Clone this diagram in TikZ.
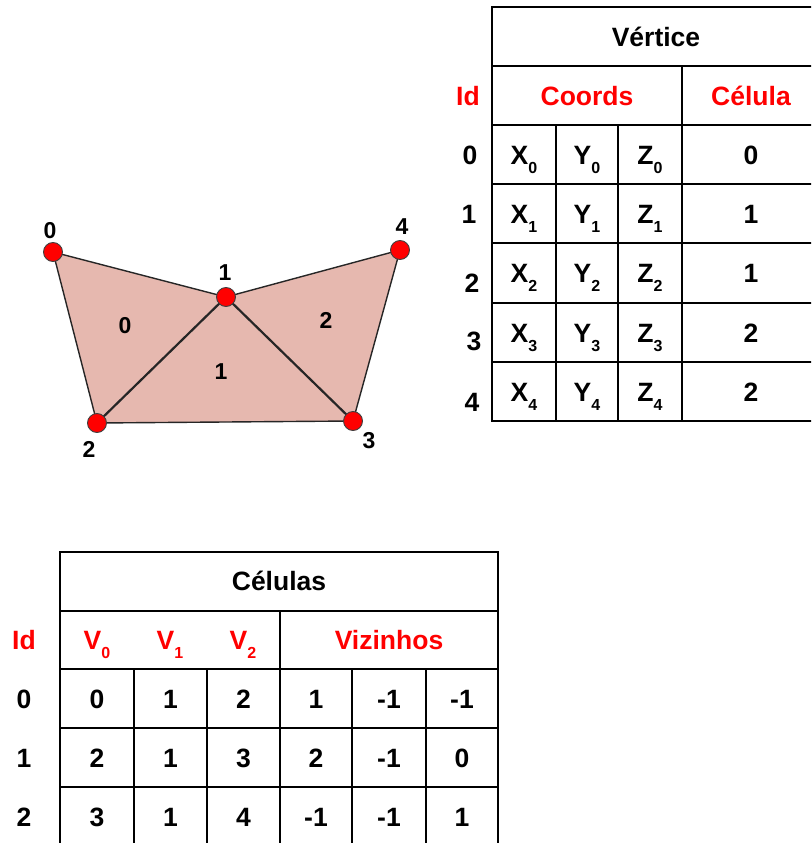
\documentclass[tikz,border=0pt]{standalone}
\usepackage{fontspec}
\setmainfont{Liberation Sans}
\usetikzlibrary{positioning,backgrounds}
\colorlet{cred}{red}
\definecolor{cfill}{HTML}{E6B8AF}
\tikzset{
  tcell/.style={font=\fontsize{26.5}{26.5}\selectfont\bfseries,inner sep=0pt,text height=19pt,text depth=0pt},
  thead/.style={tcell,text=cred},
  tgrid/.style={line width=2.4pt,line cap=rect},
  mvert/.style={circle,draw=black!75,line width=0.9pt,fill=red,minimum size=19pt,inner sep=0pt},
  mlab/.style={font=\fontsize{23}{23}\selectfont\bfseries,inner sep=0pt,text height=16.5pt,text depth=0pt},
  medge/.style={line width=1.4pt,black!85},
  mdiag/.style={line width=2.2pt,black!85},
}
\newcommand{\sbs}[1]{\raisebox{-9pt}{\fontsize{16}{16}\selectfont #1}}

\begin{document}
\begin{tikzpicture}[x=1pt,y=-1pt]
\useasboundingbox (0,0) rectangle (811,843);
\clip (0,0) rectangle (811,843);
% ---- the mesh: five vertices, three cells
\node[mvert] (v0) at (53,252) {};
\node[mvert] (v1) at (226,297) {};
\node[mvert] (v2) at (97,423) {};
\node[mvert] (v3) at (353,421) {};
\node[mvert] (v4) at (400,250) {};
\begin{scope}[on background layer]
  \fill[cfill] (v0.center) -- (v1.center) -- (v4.center) -- (v3.center) -- (v2.center) -- cycle;
  \draw[medge] (v0.center) -- (v1.center) -- (v4.center) -- (v3.center) -- (v2.center) -- cycle;
  \draw[mdiag] (v1.center) -- (v2.center);
  \draw[mdiag] (v1.center) -- (v3.center);
\end{scope}
% vertex ids
\node[mlab] (l0) at (50,230) {0};
\node[mlab] (l1) at (225,272) {1};
\node[mlab] (l2) at (89,449) {2};
\node[mlab] (l3) at (369,440) {3};
\node[mlab] (l4) at (402,226) {4};
% cell ids
\node[mlab] (c0) at (125,325) {0};
\node[mlab] (c1) at (221,371) {1};
\node[mlab] (c2) at (326,320) {2};
% ---- table of vertices
\draw[tgrid] (492,7) rectangle (820,421);
\foreach \Y in {66,125,184,243,303,362}
  \draw[tgrid] (492,\Y) -- (820,\Y);
\draw[tgrid] (682,66) -- (682,421);
\foreach \X in {556,618}
  \draw[tgrid] (\X,125) -- (\X,421);
\node[tcell] (vtit) at (656,37) {Vértice};
\node[thead] (vid) at (468,96) {Id};
\node[thead] (vcoo) at (587,96) {Coords};
\node[thead] (vcel) at (751,96) {Célula};
\foreach \i/\y/\lx/\ly/\c in {0/154.5/470/155/0,1/213.5/469/214/1,2/273/472/283/1,3/332.5/474/341/2,4/391.5/472/402/2}{
  \node[tcell] (vr\i) at (\lx,\ly) {\i};
  \node[tcell] (vx\i) at (524,\y) {X\sbs{\i}};
  \node[tcell] (vy\i) at (587,\y) {Y\sbs{\i}};
  \node[tcell] (vz\i) at (650,\y) {Z\sbs{\i}};
  \node[tcell] (vc\i) at (751,\y) {\c};}
% ---- table of cells
\draw[tgrid] (60,552) rectangle (498,846);
\foreach \Y in {611,669,728,787}
  \draw[tgrid] (60,\Y) -- (498,\Y);
\draw[tgrid] (280,611) -- (280,846);
\foreach \X in {134,207,352,426}
  \draw[tgrid] (\X,669) -- (\X,846);
\node[tcell] (ctit) at (279,581) {Células};
\node[thead] (cid) at (24,640) {Id};
\node[thead] (cv0) at (97,640) {V\sbs{0}};
\node[thead] (cv1) at (170,640) {V\sbs{1}};
\node[thead] (cv2) at (243,640) {V\sbs{2}};
\node[thead] (cviz) at (389,640) {Vizinhos};
\foreach \i/\y/\a/\b/\c/\d/\e/\f in {0/698.5/0/1/2/1/-1/-1,1/757.5/2/1/3/2/-1/0,2/816.5/3/1/4/-1/-1/1}{
  \node[tcell] (cr\i) at (24,\y) {\i};
  \node[tcell] (ca\i) at (97,\y) {\a};
  \node[tcell] (cb\i) at (170.5,\y) {\b};
  \node[tcell] (cc\i) at (243.5,\y) {\c};
  \node[tcell] (cd\i) at (316,\y) {\d};
  \node[tcell] (ce\i) at (389,\y) {\e};
  \node[tcell] (cf\i) at (462,\y) {\f};}
\end{tikzpicture}
\end{document}
